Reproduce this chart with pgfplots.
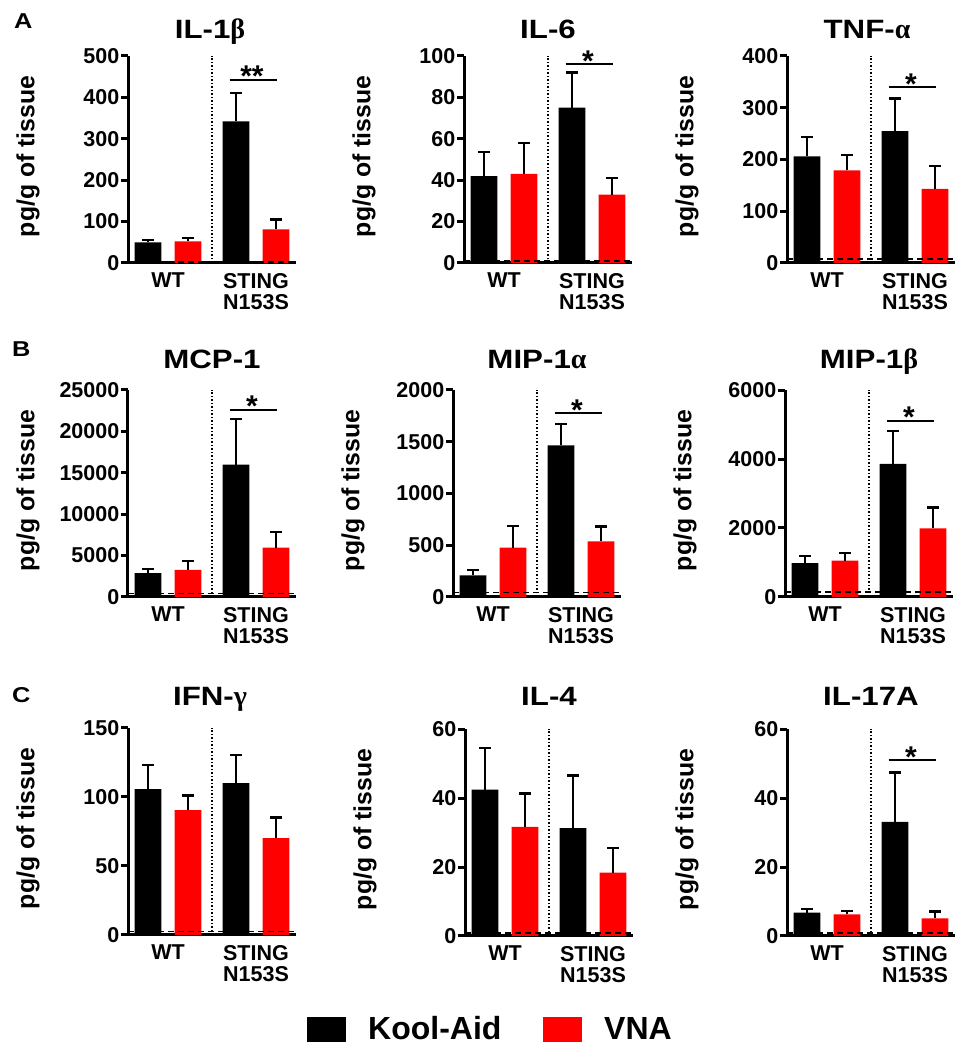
\documentclass[border=0pt]{standalone}
\usepackage{fontspec}
\setmainfont{Liberation Sans}
\newfontfamily\titlefont{Liberation Sans}[FakeStretch=1.18]
\newfontfamily\greekfont{Liberation Serif}
\usepackage{pgfplots}
\pgfplotsset{compat=1.18}
\newcommand{\tickf}{\fontsize{21.5}{21}\selectfont\bfseries}
\newcommand{\labf}{\fontsize{24.8}{24}\selectfont\bfseries}
\newcommand{\ttf}{\fontsize{26.5}{26}\selectfont\titlefont\bfseries}
\newcommand{\grk}[1]{{\fontsize{28}{28}\selectfont\greekfont #1}}
\newcommand{\starf}{\fontsize{30}{30}\selectfont\bfseries}
\newcommand{\legf}{\fontsize{32}{32}\selectfont\bfseries}
\newcommand{\letf}{\fontsize{21.5}{22}\selectfont\titlefont\bfseries}
\pgfplotsset{
  panel/.style={
    scale only axis, width=168pt, height=207pt,
    xmin=-0.5, xmax=3.7, ymin=0,
    axis x line*=bottom, axis y line*=left,
    axis line style={line width=3pt, -},
    xtick={0.5,2.7}, xticklabels={WT,{STING\\N153S}},
    x tick style={draw=none},
    y tick style={line width=3pt, black},
    major tick length=7pt, tick align=outside,
    tick label style={font=\tickf},
    xticklabel style={align=center, anchor=north, inner sep=0pt, yshift=-3pt},
    yticklabel style={anchor=east, inner sep=1.5pt},
    /pgf/number format/assume math mode=true,
    /pgf/number format/1000 sep={},
    scaled y ticks=false,
    clip=false,
  },
  kbar/.style={ybar, bar width=0.67, bar shift=0pt, fill=black, draw=none,
    error bars/.cd, y dir=plus, y explicit,
    error bar style={line width=2.2pt, black},
    error mark options={rotate=90, line width=2.2pt, mark size=6pt, black}},
  vbar/.style={ybar, bar width=0.67, bar shift=0pt, fill=red, draw=none,
    error bars/.cd, y dir=plus, y explicit,
    error bar style={line width=2.2pt, black},
    error mark options={rotate=90, line width=2.2pt, mark size=6pt, black}},
  lod/.style={line width=1.5pt, dash pattern=on 6pt off 4pt, black},
  sep/.style={line width=1.5pt, dash pattern=on 1.5pt off 2pt, black},
}
\newcommand{\sig}[2]{%
  \draw[line width=2pt] (axis cs:2.04,#1) -- (axis cs:3.22,#1);
  \node[anchor=base, inner sep=0pt, font=\starf, yshift=-7pt] at (axis cs:2.6,#1) {#2};}
\begin{document}
\begin{tikzpicture}
\useasboundingbox (0pt,0pt) rectangle (962pt,1050pt);

% ---------------- Row A ----------------
\begin{axis}[panel, at={(128pt,787pt)}, anchor=south west, ymax=500, ytick={0,100,...,500}]
\addplot[kbar] coordinates {(0,50) +- (0,6) (2.2,342) +- (0,68)};
\addplot[vbar] coordinates {(1,52) +- (0,9) (3.2,81) +- (0,24)};
\addplot[lod] coordinates {(-0.5,2) (3.7,2)};
\addplot[sep] coordinates {(1.6,0) (1.6,500)};
\sig{443}{**}
\end{axis}

\begin{axis}[panel, at={(464pt,787pt)}, anchor=south west, ymax=100, ytick={0,20,...,100}]
\addplot[kbar] coordinates {(0,42) +- (0,11.5) (2.2,75) +- (0,17)};
\addplot[vbar] coordinates {(1,43) +- (0,15) (3.2,33) +- (0,8)};
\addplot[lod] coordinates {(-0.5,1) (3.7,1)};
\addplot[sep] coordinates {(1.6,0) (1.6,100)};
\sig{96}{*}
\end{axis}

\begin{axis}[panel, at={(787pt,787pt)}, anchor=south west, ymax=400, ytick={0,100,...,400}]
\addplot[kbar] coordinates {(0,206) +- (0,38) (2.2,255) +- (0,63)};
\addplot[vbar] coordinates {(1,179) +- (0,29) (3.2,143) +- (0,45)};
\addplot[lod] coordinates {(-0.5,8) (3.7,8)};
\addplot[sep] coordinates {(1.6,0) (1.6,400)};
\sig{340}{*}
\end{axis}

% ---------------- Row B ----------------
\begin{axis}[panel, at={(128pt,453pt)}, anchor=south west, ymax=25000, ytick={0,5000,...,25000}]
\addplot[kbar] coordinates {(0,2870) +- (0,530) (2.2,16000) +- (0,5500)};
\addplot[vbar] coordinates {(1,3280) +- (0,1090) (3.2,5950) +- (0,1940)};
\addplot[lod] coordinates {(-0.5,400) (3.7,400)};
\addplot[sep] coordinates {(1.6,0) (1.6,25000)};
\sig{22600}{*}
\end{axis}

\begin{axis}[panel, at={(453pt,453pt)}, anchor=south west, ymax=2000, ytick={0,500,...,2000}]
\addplot[kbar] coordinates {(0,209) +- (0,55) (2.2,1466) +- (0,209)};
\addplot[vbar] coordinates {(1,476) +- (0,212) (3.2,537) +- (0,145)};
\addplot[lod] coordinates {(-0.5,42) (3.7,42)};
\addplot[sep] coordinates {(1.6,0) (1.6,2000)};
\sig{1775}{*}
\end{axis}

\begin{axis}[panel, at={(785pt,453pt)}, anchor=south west, ymax=6000, ytick={0,2000,...,6000}]
\addplot[kbar] coordinates {(0,979) +- (0,202) (2.2,3859) +- (0,960)};
\addplot[vbar] coordinates {(1,1056) +- (0,211) (3.2,1987) +- (0,605)};
\addplot[lod] coordinates {(-0.5,144) (3.7,144)};
\addplot[sep] coordinates {(1.6,0) (1.6,6000)};
\sig{5107}{*}
\end{axis}

% ---------------- Row C ----------------
\begin{axis}[panel, at={(128pt,115pt)}, anchor=south west, ymax=150, ytick={0,50,...,150}]
\addplot[kbar] coordinates {(0,105.7) +- (0,17.7) (2.2,110.1) +- (0,20.3)};
\addplot[vbar] coordinates {(1,90.5) +- (0,10.6) (3.2,70.2) +- (0,15)};
\addplot[lod] coordinates {(-0.5,2.4) (3.7,2.4)};
\addplot[sep] coordinates {(1.6,0) (1.6,150)};
\end{axis}

\begin{axis}[panel, at={(465pt,114pt)}, anchor=south west, ymax=60, ytick={0,20,...,60}]
\addplot[kbar] coordinates {(0,42.4) +- (0,12) (2.2,31.3) +- (0,15.2)};
\addplot[vbar] coordinates {(1,31.6) +- (0,9.7) (3.2,18.4) +- (0,7.1)};
\addplot[lod] coordinates {(-0.5,0.8) (3.7,0.8)};
\addplot[sep] coordinates {(1.6,0) (1.6,60)};
\end{axis}

\begin{axis}[panel, at={(787pt,114pt)}, anchor=south west, ymax=60, ytick={0,20,...,60}]
\addplot[kbar] coordinates {(0,6.8) +- (0,1.1) (2.2,33.1) +- (0,14.3)};
\addplot[vbar] coordinates {(1,6.3) +- (0,0.9) (3.2,5.1) +- (0,2.0)};
\addplot[lod] coordinates {(-0.5,0.8) (3.7,0.8)};
\addplot[sep] coordinates {(1.6,0) (1.6,60)};
\sig{51}{*}
\end{axis}

% ---------------- titles ----------------
\node[anchor=base] at (210pt,1011pt) {\ttf IL-1\grk{β}};
\node[anchor=base] at (548pt,1011pt) {\ttf IL-6};
\node[anchor=base] at (867pt,1011pt) {\ttf TNF-\grk{α}};
\node[anchor=base] at (212pt,681pt) {\ttf MCP-1};
\node[anchor=base] at (537pt,681pt) {\ttf MIP-1\grk{α}};
\node[anchor=base] at (869pt,681pt) {\ttf MIP-1\grk{β}};
\node[anchor=base] at (210pt,344pt) {\ttf IFN-\grk{γ}};
\node[anchor=base] at (549pt,344pt) {\ttf IL-4};
\node[anchor=base] at (871pt,344pt) {\ttf IL-17A};

% ---------------- y labels ----------------
\foreach \x/\y in {28/893.5, 364/893.5, 687/893.5, 28/559.5, 353/559.5, 685/559.5, 28/221.5, 365/220.5, 687/220.5}
  \node[rotate=90, inner sep=0pt] at (\x pt,\y pt) {\labf pg/g of tissue};

% ---------------- panel letters ----------------
\node[anchor=base west, inner sep=0pt] at (14pt,1021pt) {\letf A};
\node[anchor=base west, inner sep=0pt] at (12pt,693pt) {\letf B};
\node[anchor=base west, inner sep=0pt] at (12pt,347pt) {\letf C};

% ---------------- legend ----------------
\fill[black] (307pt,8pt) rectangle (346pt,33pt);
\node[anchor=base west, inner sep=0pt] at (368pt,10pt) {\legf Kool-Aid};
\fill[red] (543pt,8pt) rectangle (582pt,33pt);
\node[anchor=base west, inner sep=0pt] at (604pt,10pt) {\legf VNA};
\end{tikzpicture}
\end{document}
